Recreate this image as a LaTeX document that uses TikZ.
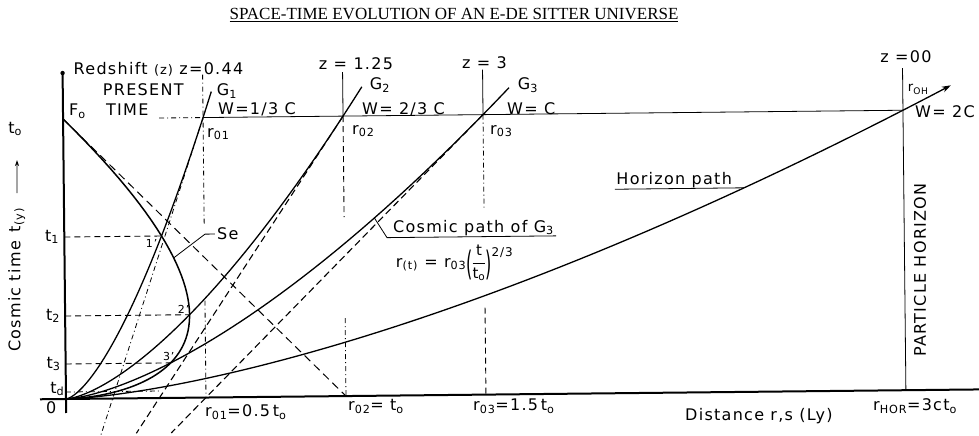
\documentclass[tikz,border=0pt]{standalone}
\usepackage{fontspec}
\setmainfont[LetterSpace=8]{DejaVu Sans}
\newfontfamily\titlefont{Liberation Serif}
\usetikzlibrary{positioning,arrows.meta}

\tikzset{
  lbl/.style={inner sep=0pt, font=\fontsize{16}{18}\selectfont},
  smalllbl/.style={inner sep=0pt, font=\fontsize{11}{12}\selectfont},
  axisline/.style={line width=2pt},
  worldline/.style={line width=1.3pt},
  seline/.style={line width=1.5pt},
  thinline/.style={line width=0.8pt},
  dashdot/.style={line width=0.8pt, dash pattern=on 5pt off 3pt on 1pt off 3pt},
  dashline/.style={line width=0.9pt, dash pattern=on 6pt off 4pt},
  hubble/.style={line width=1.1pt, dash pattern=on 7pt off 4pt},
  lightray/.style={line width=1pt, dash pattern=on 8pt off 5pt}
}
\newcommand{\bigparen}[1]{\raisebox{-8pt}{\scalebox{1}[2.1]{#1}}}

\begin{document}
\begin{tikzpicture}[x=1pt,y=1pt]
  \useasboundingbox (0,0) rectangle (979,436);

  \node[inner sep=0pt, anchor=base, font=\titlefont\fontsize{17}{19}\selectfont] (title) at (454,416)
    {\underline{SPACE-TIME EVOLUTION OF AN E-DE SITTER UNIVERSE}};

  \begin{scope}[shift={(66,37)}, rotate=0.6]

  % Points (1 t_o = 280)
  \coordinate (O)    at (0,0);
  \coordinate (Fo)   at (0,280);
  \coordinate (ttop) at (0,326);
  \coordinate (tbot) at (0,-14);
  \coordinate (xl)   at (-26,0);
  \coordinate (xr)   at (920,0);
  \coordinate (r01)  at (140,0);
  \coordinate (r02)  at (280,0);
  \coordinate (r03)  at (420,0);
  \coordinate (rH)   at (840,0);
  \coordinate (g1)   at (140,280);
  \coordinate (g2)   at (280,280);
  \coordinate (g3)   at (420,280);
  \coordinate (gH)   at (840,280);
  \coordinate (pl)   at (96,280);
  \coordinate (z1top) at (140,323);
  \coordinate (z2top) at (280,324);
  \coordinate (z3top) at (420,325);
  \coordinate (zHtop) at (840,322);
  \coordinate (z1a) at (140,172);
  \coordinate (z1b) at (140,97);
  \coordinate (z2a) at (280,179);
  \coordinate (z2b) at (280,78);
  \coordinate (z3a) at (420,185);
  \coordinate (z3b) at (420,87);
  \coordinate (t1) at (0,162);
  \coordinate (t2) at (0,83);
  \coordinate (t3) at (0,35);
  \coordinate (td) at (0,7);
  \coordinate (p1) at (97.2,162);
  \coordinate (p2) at (124.4,83);
  \coordinate (p3) at (105,35);
  \coordinate (pd) at (96,7);
  \coordinate (g1b) at (34,-38);
  \coordinate (g2b) at (70,-35);
  \coordinate (g3b) at (105,-35);

  % Axes
  \draw[axisline] (tbot) -- (ttop);
  \fill (ttop) circle (2.2);
  \draw[axisline] (xl) -- (xr);

  % Present time and redshift lines
  \draw[dashdot] (pl) -- (g1);
  \draw[thinline] (g1) -- (gH);
  \draw[dashdot] (z1top) -- (z1a);
  \draw[dashdot] (z1b) -- (r01);
  \draw[thinline] (z2top) -- (g2);
  \draw[dashline] (g2) -- (z2a);
  \draw[dashdot] (z2b) -- (r02);
  \draw[thinline] (z3top) -- (g3);
  \draw[dashdot] (g3) -- (z3a);
  \draw[dashline] (z3b) -- (r03);
  \draw[thinline] (zHtop) -- (rH);

  % Emission times
  \draw[dashline] (t1) -- (p1);
  \draw[dashline] (t2) -- (p2);
  \draw[dashline] (t3) -- (p3);
  \draw[dashdot] (td) -- (pd);

  % Straight lines
  \draw[lightray] (Fo) -- (r02);
  \draw[dashdot] (g1) -- (g1b);
  \draw[hubble] (g2) -- (g2b);
  \draw[hubble] (g3) -- (g3b);

  % Cosmic paths
  \draw[worldline] plot[domain=0:1.03, samples=60, variable=\s] ({140*\s*\s},{280*\s*\s*\s});
  \draw[worldline] plot[domain=0:1.034, samples=60, variable=\s] ({280*\s*\s},{280*\s*\s*\s});
  \draw[worldline] plot[domain=0:1.031, samples=60, variable=\s] ({420*\s*\s},{280*\s*\s*\s});
  \draw[worldline, -{Stealth[length=9pt, width=6pt]}]
    plot[domain=0:1.029, samples=80, variable=\s] ({840*\s*\s},{280*\s*\s*\s});
  \draw[seline] plot[domain=0:1, samples=80, variable=\s] ({840*\s*\s*(1-\s)},{280*\s*\s*\s});

  % Labels
  \node[lbl, anchor=west] (red) at (11,330) {Redshift {\fontsize{13}{13}\selectfont(z)} z=0.44};
  \node[lbl, anchor=west] (pres) at (40,308.5) {PRESENT};
  \node[lbl, anchor=west] (time) at (43,289) {TIME};
  \node[lbl, anchor=west] (fo) at (6,288) {F\textsubscript{o}};
  \node[lbl] (tzero) at (-48,270.5) {t\textsubscript{o}};
  \coordinate (ca) at (-46.8,206.5);
  \coordinate (cb) at (-46.5,239.5);
  \draw[thinline, -{Stealth[length=6pt, width=4pt]}] (ca) -- (cb);
  \node[lbl, rotate=90] (ct) at (-48,119.5) {Cosmic time\, t\textsubscript{(y)}};

  \node[lbl, anchor=east] (tone) at (-5,162) {t\textsubscript{1}};
  \node[lbl, anchor=east] (ttwo) at (-5,83) {t\textsubscript{2}};
  \node[lbl, anchor=east] (tthree) at (-5,35) {t\textsubscript{3}};
  \node[lbl, anchor=east] (tdl) at (-1.5,10) {t\textsubscript{d}};
  \node[lbl] (zero) at (-15,-8.8) {0};

  \node[smalllbl, anchor=north east] (one) at ([xshift=-4pt,yshift=-3pt]p1) {1'};
  \node[smalllbl, anchor=south east] (two) at ([yshift=1pt]p2) {2'};
  \node[smalllbl, anchor=south east] (three) at ([xshift=4pt,yshift=2pt]p3) {3'};

  \node[lbl, anchor=west] (gone) at (154,306.4) {G\textsubscript{1}};
  \node[lbl, anchor=west] (wone) at (155,288) {W=1/3 C};
  \node[lbl, anchor=west] (rone) at (143.8,263.5) {r\textsubscript{01}};
  \node[lbl] (ztwo) at (293.5,332) {z = 1.25};
  \node[lbl, anchor=west] (gtwo) at (307,310.8) {G\textsubscript{2}};
  \node[lbl, anchor=west] (wtwo) at (299,287) {W= 2/3 C};
  \node[lbl, anchor=west] (rtwo) at (288.8,265) {r\textsubscript{02}};
  \node[lbl] (zthree) at (422,332) {z = 3};
  \node[lbl, anchor=west] (gthree) at (455,309.3) {G\textsubscript{3}};
  \node[lbl, anchor=west] (wthree) at (444,285.4) {W= C};
  \node[lbl, anchor=west] (rthree) at (426.8,263.5) {r\textsubscript{03}};
  \node[lbl] (zH) at (843.6,334) {z =00};
  \node[lbl, anchor=west] (roh) at (845,301) {{\fontsize{13}{13}\selectfont r\textsubscript{OH}}};
  \node[lbl, anchor=west] (wH) at (852,278.6) {W= 2C};
  \node[lbl, rotate=90] (ph) at (855.4,120) {PARTICLE HORIZON};

  % Se label
  \coordinate (sept) at (109.2,140);
  \node[lbl, anchor=west] (se) at (152.7,163.4) {Se};
  \draw[thinline] ([xshift=-2pt]se.west) -- ([xshift=-12pt]se.west) -- (sept);

  % Cosmic path of G3 label
  \coordinate (cpt) at (310.3,177.8);
  \coordinate (cpu) at (322.7,158);
  \node[lbl, anchor=south west, inner sep=2pt] (cp) at ([xshift=4pt]cpu) {Cosmic path of G\textsubscript{3}};
  \draw[thinline] (cpt) -- (cpu) -- (cpu -| cp.east);
  \node[lbl, anchor=north] (rt) at (390,151)
    {r\textsubscript{(t)} = r\textsubscript{03}\bigparen{(}{\fontsize{15}{16}\selectfont
     \begin{tabular}{@{}c@{}}t\\[3pt]\hline\rule{0pt}{15pt}t\textsubscript{o}\end{tabular}}\bigparen{)}\raisebox{11pt}{\fontsize{12}{12}\selectfont 2/3}};

  % Horizon path label
  \coordinate (hpt) at (680.4,204.1);
  \coordinate (hpu) at (551,204);
  \node[lbl, anchor=south west, inner sep=1.5pt] (hp) at (hpu) {Horizon path};
  \draw[thinline] (hpu) -- (hpt);

  % Distances
  \node[lbl, anchor=west] (done) at (138.9,-14.5) {r\textsubscript{01}=0.5\,t\textsubscript{o}};
  \node[lbl, anchor=west] (dtwo) at (281.9,-10.5) {r\textsubscript{02}= t\textsubscript{o}};
  \node[lbl, anchor=west] (dthree) at (406.9,-11.3) {r\textsubscript{03}=1.5\,t\textsubscript{o}};
  \node[lbl, anchor=west] (dist) at (618.8,-24) {Distance r,s (Ly)};
  \node[lbl, anchor=west] (dH) at (806.9,-15.5) {r\textsubscript{HOR}=3ct\textsubscript{o}};

  \end{scope}
\end{tikzpicture}
\end{document}
